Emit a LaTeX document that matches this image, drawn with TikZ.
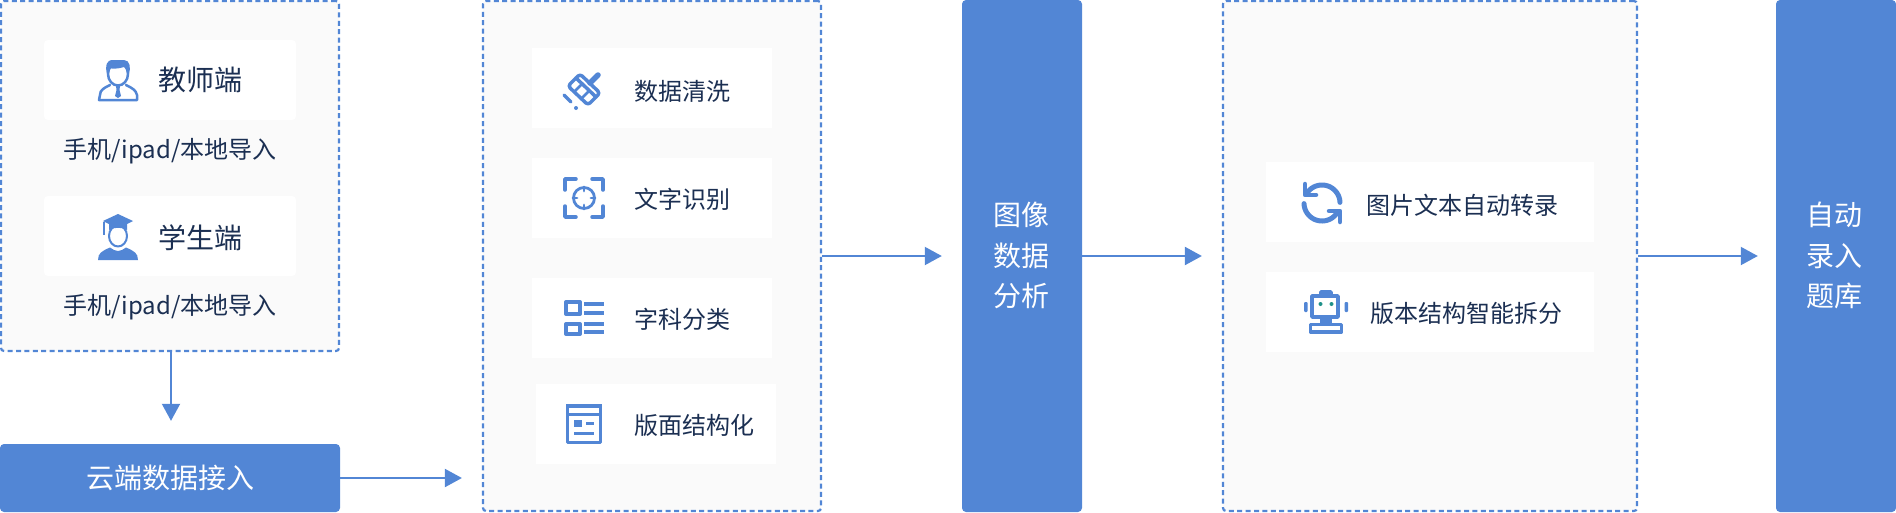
\documentclass[tikz,border=0pt]{standalone}
\usepackage{fontspec}
\setmainfont{Noto Sans CJK SC}
\usetikzlibrary{arrows.meta}
\definecolor{brand}{HTML}{5286D5}
\definecolor{ink}{HTML}{1B2F52}
\definecolor{panel}{HTML}{FAFAFA}
\definecolor{eye}{HTML}{1F9189}
\tikzset{
  panelbox/.style={draw=brand,fill=panel,line width=2.2pt,dash pattern=on 5pt off 3.4pt,rounded corners=3pt,inner sep=0pt},
  whitebox/.style={fill=white,inner sep=0pt},
  solidbox/.style={fill=brand,rounded corners=4pt,inner sep=0pt},
  conn/.style={draw=brand,line width=2pt,-{Triangle[length=17pt,width=18pt]}},
  label/.style={text=ink,font=\fontsize{24}{28}\selectfont,inner sep=0pt},
  biglabel/.style={text=ink,font=\fontsize{28}{32}\selectfont,inner sep=0pt},
  onblue/.style={text=white,font=\fontsize{28}{32}\selectfont,inner sep=0pt},
  icon/.style={draw=brand,line width=3.5pt,line cap=round,line join=round},
  iconfill/.style={fill=brand},
}
\begin{document}
\begin{tikzpicture}[x=1pt,y=-1pt]
\useasboundingbox (0,0) rectangle (1896,512);
% panels
\node[panelbox,minimum width=338pt,minimum height=350pt] (p1) at (170,176) {};
\node[panelbox,minimum width=338pt,minimum height=510pt] (p2) at (652,256) {};
\node[panelbox,minimum width=414pt,minimum height=510pt] (p3) at (1430,256) {};
% solid boxes
\node[solidbox,minimum width=340pt,minimum height=68pt] (cloud) at (170,478) {};
\node[solidbox,minimum width=120pt,minimum height=512pt] (img) at (1022,256) {};
\node[solidbox,minimum width=120pt,minimum height=512pt] (auto) at (1836,256) {};
% white cards
\node[whitebox,rounded corners=4pt,minimum width=252pt,minimum height=80pt] (c1) at (170,80) {};
\node[whitebox,rounded corners=4pt,minimum width=252pt,minimum height=80pt] (c2) at (170,236) {};
\node[whitebox,minimum width=240pt,minimum height=80pt] (d1) at (652,88) {};
\node[whitebox,minimum width=240pt,minimum height=80pt] (d2) at (652,198) {};
\node[whitebox,minimum width=240pt,minimum height=80pt] (d3) at (652,318) {};
\node[whitebox,minimum width=240pt,minimum height=80pt] (d4) at (656,424) {};
\node[whitebox,minimum width=328pt,minimum height=80pt] (e1) at (1430,202) {};
\node[whitebox,minimum width=328pt,minimum height=80pt] (e2) at (1430,312) {};
% texts
\node[biglabel] (t1) at (200,80) {教师端};
\node[biglabel] (t2) at (200,238) {学生端};
\node[label] (t3) at (170,151) {手机/ipad/本地导入};
\node[label] (t4) at (170,307) {手机/ipad/本地导入};
\node[onblue] (t5) at (170,478) {云端数据接入};
\node[label] (t6) at (682,91) {数据清洗};
\node[label] (t7) at (682,199) {文字识别};
\node[label] (t8) at (682,319) {字科分类};
\node[label] (t9) at (694,425) {版面结构化};
\node[label] (t10) at (1462,205) {图片文本自动转录};
\node[label] (t11) at (1466,313) {版本结构智能拆分};
\node[onblue] (t12) at (1021,215) {图像};
\node[onblue] (t13) at (1021,256) {数据};
\node[onblue] (t14) at (1021,296) {分析};
\node[onblue] (t15) at (1834.5,215) {自动};
\node[onblue] (t16) at (1834.5,256) {录入};
\node[onblue] (t17) at (1834.5,296) {题库};
% connectors
\draw[conn,shorten >=23pt] ([xshift=1pt]p1.south) -- ([xshift=1pt]cloud.north);
\draw[conn,shorten >=20pt] (cloud.east) -- (p2.west |- cloud.east);
\draw[conn,shorten >=20pt] (p2.east) -- (img.west);
\draw[conn,shorten >=20pt] (img.east) -- (p3.west);
\draw[conn,shorten >=18pt] (p3.east) -- (auto.west);
% teacher icon
\draw[icon,line width=2.5pt] (118,74) ellipse[x radius=10pt,y radius=11.5pt];
\fill[iconfill] (107,74) .. controls (105,66) and (106,60) .. (113,60) -- (124,60) .. controls (130,60) and (131,68) .. (129,74) .. controls (128,70) and (127,68) .. (124,67) .. controls (118,69) and (112,69) .. (109,68) .. controls (108,70) and (108,72) .. (107,74) -- cycle;
\draw[icon,line width=2.5pt] (110,85) .. controls (104,88) and (100,90) .. (100,95) -- (99,100) -- (137,100) -- (137,95) .. controls (136,90) and (132,88) .. (126,85);
\fill[iconfill] (116,86) -- (120,86) -- (119.5,90) -- (121,96) -- (118,98) -- (115,96) -- (116.5,90) -- cycle;
% student icon
\fill[iconfill] (118,214) -- (133,221) -- (127,224) -- (127,230) .. controls (122,227) and (114,227) .. (109,230) -- (109,224) -- (103,221) -- cycle;
\draw[brand,line width=1.5pt] (104,222) -- (104,235);
\draw[icon,line width=2pt] (118,236) ellipse[x radius=9pt,y radius=10.5pt];
\fill[iconfill] (98,260) .. controls (98,253) and (102,251) .. (110,247.5) -- (114,250) -- (118,251) -- (122,250) -- (126,247.5) .. controls (134,251) and (138,253) .. (138,260) -- cycle;
% brush icon
\draw[icon,rounded corners=3pt] (580,74) -- (600,93) -- (588,105) -- (568,86) -- cycle;
\draw[icon] (576,78) -- (596,97);
\draw[icon,line width=2.8pt] (582,84) -- (575,91);
\draw[icon,line width=2.8pt] (589,91) -- (582,98);
\draw[icon,line width=5.5pt] (590,83) -- (598,75);
\draw[icon] (564,95) -- (571,102);
\fill[iconfill] (576,108) circle[radius=2pt];
% scan icon
\draw[icon] (565,190) -- (565,179) -- (576,179);
\draw[icon] (592,179) -- (603,179) -- (603,190);
\draw[icon] (565,206) -- (565,217) -- (576,217);
\draw[icon] (592,217) -- (603,217) -- (603,206);
\draw[icon,line width=2.8pt] (584,198) circle[radius=10.5pt];
\draw[icon,line width=2.8pt] (584,187) -- (584,191) (584,205) -- (584,209) (573,198) -- (577,198) (591,198) -- (595,198);
% list icon
\draw[brand,line width=4pt,line join=round] (566,302) rectangle (580,314);
\draw[brand,line width=4pt,line join=round] (566,324) rectangle (580,334);
\draw[brand,line width=4pt] (584,304) -- (604,304) (584,313) -- (604,313) (584,324) -- (604,324) (584,332) -- (604,332);
% layout icon
\draw[brand,line width=3.5pt,line join=round] (567.5,405.5) rectangle (600.5,442.5);
\fill[iconfill] (566,404) rectangle (602,408);
\fill[iconfill] (566,413) rectangle (602,415.5);
\fill[iconfill] (574,420) rectangle (582,427);
\fill[iconfill] (586,422) rectangle (594,425);
\fill[iconfill] (574,432) rectangle (594,435);
% refresh icon
\draw[icon,line width=5pt] plot[domain=215:358,samples=30] ({1322+18*cos(\x)},{203+18*sin(\x)});
\draw[icon,line width=5pt] plot[domain=35:178,samples=30] ({1322+18*cos(\x)},{203+18*sin(\x)});
\draw[icon,line width=4.5pt] (1305,184) -- (1305,195) -- (1316,195);
\draw[icon,line width=4.5pt] (1340,222) -- (1340,211) -- (1329,211);
% robot icon
\draw[brand,line width=3.5pt,line join=round] (1312,296) rectangle (1338,317);
\draw[brand,line width=3.5pt,line join=round] (1321,292) rectangle (1331,296);
\fill[iconfill,rounded corners=1pt] (1304,302) rectangle (1307.5,312);
\fill[iconfill,rounded corners=1pt] (1344.5,302) rectangle (1348,312);
\fill[eye] (1320.5,304) circle[radius=2pt];
\fill[eye] (1331.5,304) circle[radius=2pt];
\fill[iconfill] (1320,318) rectangle (1332,324);
\draw[brand,line width=3.5pt,line join=round] (1310.5,324.5) rectangle (1341.5,332);
\end{tikzpicture}
\end{document}
